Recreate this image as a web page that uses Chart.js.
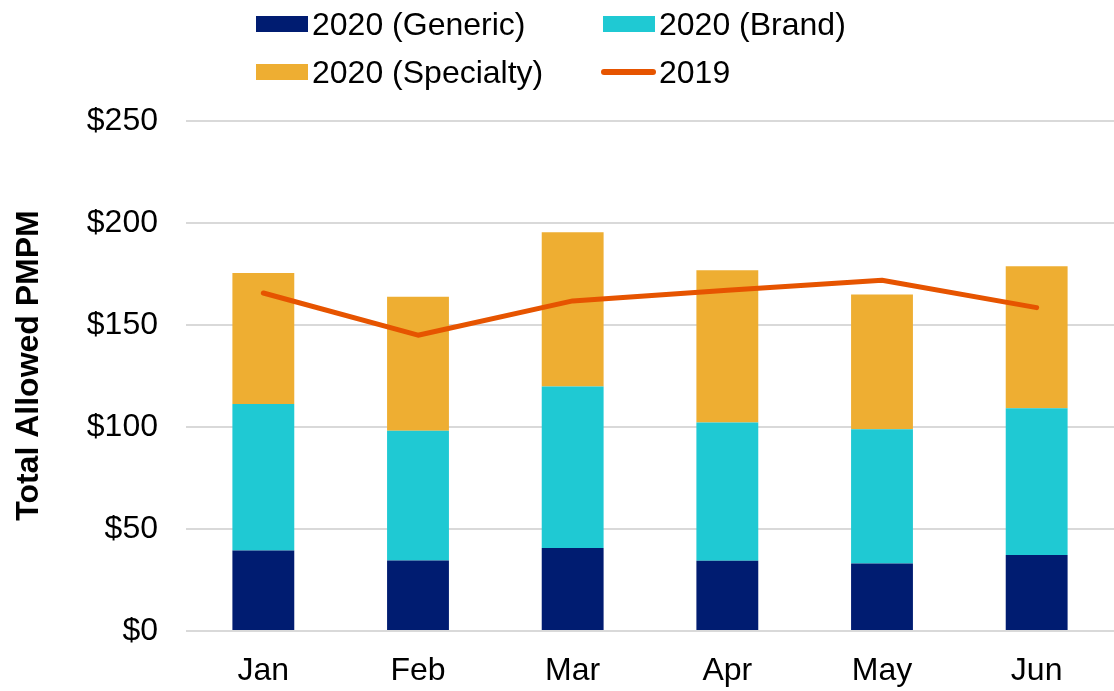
<!DOCTYPE html>
<html>
<head>
<meta charset="utf-8">
<script src="https://cdn.jsdelivr.net/npm/chart.js@4.4.1/dist/chart.umd.min.js"></script>
<style>
  html, body { margin: 0; padding: 0; background: #fff; }
  #wrap { position: relative; width: 1114px; height: 691px; }
  canvas { position: absolute; left: 0; top: 0; }
  .lg { position: absolute; font-family: "Liberation Sans", Arial, sans-serif; font-size: 32px; color: #000; white-space: nowrap; line-height: 38px; }
  .sw { position: absolute; }
</style>
</head>
<body>
<div id="wrap">
  <canvas id="c" width="1114" height="691"></canvas>
  <div id="legend"></div>
</div>
<script>
const categories = ["Jan", "Feb", "Mar", "Apr", "May", "Jun"];
const generic2020 = [39.4, 34.6, 40.7, 34.4, 33.1, 37.2];
const brand2020 = [71.9, 63.6, 79.1, 67.8, 65.8, 72.0];
const specialty2020 = [64.2, 65.6, 75.7, 74.6, 66.1, 69.6];
const total2019 = [165.7, 145.0, 161.8, 167.0, 171.9, 158.5];
const yTicks = [0, 50, 100, 150, 200, 250];
const yTitle = "Total Allowed PMPM";

const COLORS = { generic: "#001c71", brand: "#1fc9d3", specialty: "#eeae32", line: "#e65400" };

// legend (HTML, real text)
const legendItems = [
  { label: "2020 (Generic)", color: COLORS.generic, kind: "box", x: 256, y: 24 },
  { label: "2020 (Brand)", color: COLORS.brand, kind: "box", x: 603, y: 24 },
  { label: "2020 (Specialty)", color: COLORS.specialty, kind: "box", x: 256, y: 72 },
  { label: "2019", color: COLORS.line, kind: "line", x: 603, y: 72 }
];
const lg = document.getElementById("legend");
legendItems.forEach(it => {
  const sw = document.createElement("div");
  sw.className = "sw";
  if (it.kind === "box") {
    sw.style.cssText = `left:${it.x}px;top:${it.y - 8}px;width:52px;height:16px;background:${it.color};`;
  } else {
    sw.style.cssText = `left:${it.x - 2}px;top:${it.y - 3}px;width:55px;height:6px;border-radius:3px;background:${it.color};`;
  }
  lg.appendChild(sw);
  const t = document.createElement("div");
  t.className = "lg";
  t.textContent = it.label;
  t.style.left = (it.x + 56) + "px";
  t.style.top = (it.y - 19) + "px";
  lg.appendChild(t);
});

const FONT = "'Liberation Sans', Arial, sans-serif";

const yTitlePlugin = {
  id: "yTitle",
  afterDraw(chart) {
    const ctx = chart.ctx;
    ctx.save();
    ctx.translate(29, 365.5);
    ctx.rotate(-Math.PI / 2);
    ctx.font = "bold 32px " + FONT;
    ctx.fillStyle = "#000";
    ctx.textAlign = "center";
    ctx.textBaseline = "middle";
    ctx.fillText(yTitle, 0, 0);
    ctx.restore();
  }
};

new Chart(document.getElementById("c"), {
  type: "bar",
  data: {
    labels: categories,
    datasets: [
      { type: "line", label: "2019", data: total2019, borderColor: COLORS.line, backgroundColor: COLORS.line,
        borderWidth: 5, pointRadius: 0, pointHoverRadius: 0, tension: 0, stack: "line", order: 0,
        borderCapStyle: "round", borderJoinStyle: "round" },
      { label: "2020 (Generic)", data: generic2020, backgroundColor: COLORS.generic, stack: "bars", order: 1 },
      { label: "2020 (Brand)", data: brand2020, backgroundColor: COLORS.brand, stack: "bars", order: 1 },
      { label: "2020 (Specialty)", data: specialty2020, backgroundColor: COLORS.specialty, stack: "bars", order: 1 }
    ]
  },
  plugins: [yTitlePlugin],
  options: {
    responsive: false,
    animation: false,
    devicePixelRatio: 1,
    barPercentage: 0.4,
    categoryPercentage: 1.0,
    layout: { padding: { top: 121, right: 0, left: 0, bottom: 0 } },
    plugins: { legend: { display: false }, tooltip: { enabled: false } },
    scales: {
      x: {
        stacked: true,
        grid: { display: false },
        border: { display: false },
        ticks: { color: "#000", font: { family: FONT, size: 32 }, padding: 13 },
        afterFit: s => { s.height = 60; }
      },
      y: {
        stacked: true,
        min: 0, max: 250,
        afterBuildTicks: s => { s.ticks = yTicks.map(v => ({ value: v })); },
        grid: { color: "#d9d9d9", lineWidth: 2, drawTicks: false },
        border: { display: false },
        ticks: { color: "#000", font: { family: FONT, size: 32 }, padding: 28,
          callback: v => "$" + v },
        title: { display: false },
        afterFit: s => { s.width = 186; }
      }
    }
  }
});
</script>
</body>
</html>
